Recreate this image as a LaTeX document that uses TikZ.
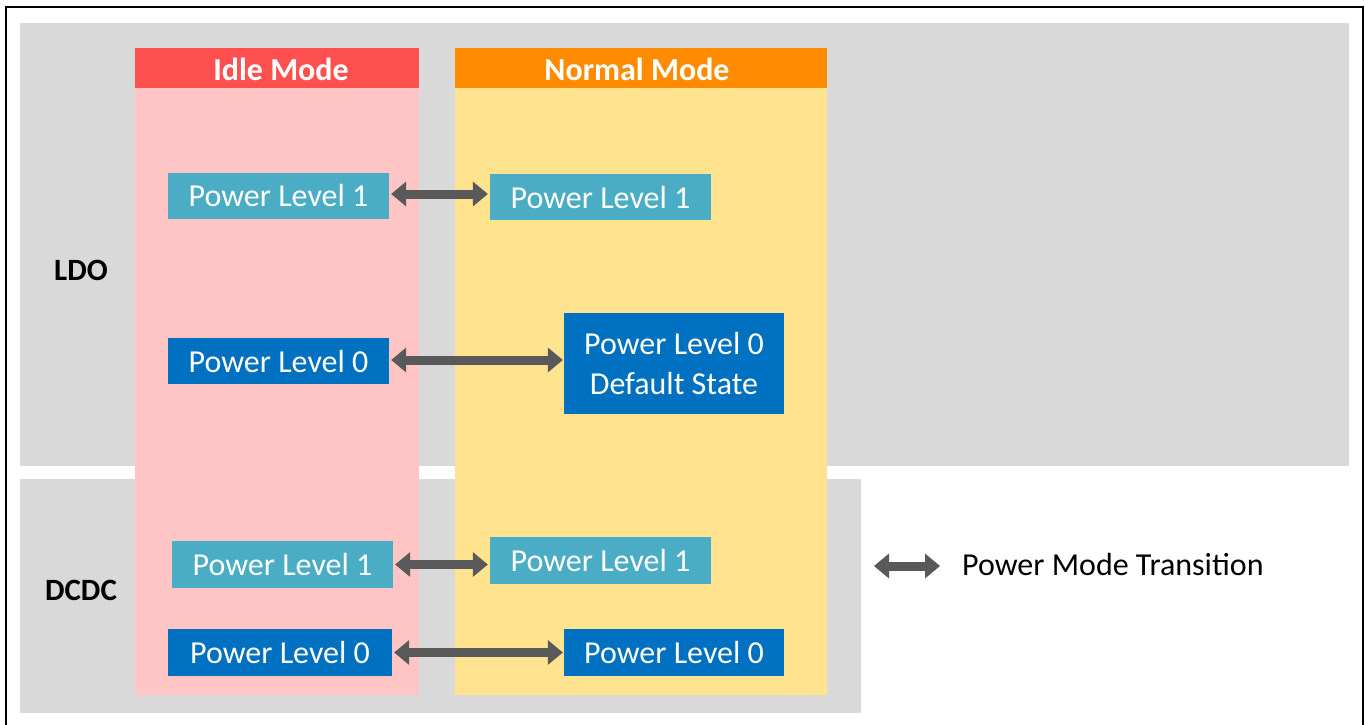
\documentclass[tikz,border=0pt]{standalone}
\usepackage{fontspec}
\setmainfont{Carlito}
\usetikzlibrary{arrows.meta}
\definecolor{bandgray}{HTML}{D9D9D9}
\definecolor{idlehead}{HTML}{FF5050}
\definecolor{idlebody}{HTML}{FFC4C4}
\definecolor{normhead}{HTML}{FF8C00}
\definecolor{normbody}{HTML}{FFE38F}
\definecolor{lightblue}{HTML}{4BACC6}
\definecolor{darkblue}{HTML}{0070C0}
\definecolor{arrowgray}{HTML}{595959}
\tikzset{
  txt/.style={font=\fontsize{32}{40}\selectfont},
  plbox/.style={txt, text=white, inner sep=0pt, align=center, minimum width=221pt, minimum height=46pt},
  plone/.style={plbox, fill=lightblue},
  plzero/.style={plbox, fill=darkblue},
  header/.style={font=\fontsize{32}{38}\selectfont\bfseries, text=white, inner sep=0pt},
  rowlabel/.style={font=\fontsize{31}{36}\selectfont\bfseries, text=black, inner sep=0pt},
  trans/.style={draw=arrowgray, line width=9pt,
    {Triangle[width=25pt,length=15pt,line width=0pt]}-{Triangle[width=25pt,length=15pt,line width=0pt]}},
}
\begin{document}
\begin{tikzpicture}[x=1pt,y=-1pt]
\useasboundingbox (0,0) rectangle (1365,725);
% outer frame
\draw[line width=2.6pt] (6,740) -- (6,7) -- (1363,7) -- (1363,740);
% bands
\fill[bandgray] (20,23) rectangle (1349,466);
\fill[bandgray] (20,479) rectangle (861,713);
% columns
\fill[idlebody] (135,88) rectangle (419,695);
\fill[normbody] (455,88) rectangle (827,695);
\fill[idlehead] (135,48) rectangle (419,88);
\fill[normhead] (455,48) rectangle (827,88);
\node[header] (ih) at (281,69) {Idle Mode};
\node[header] (nh) at (637,69) {Normal Mode};
% row labels
\node[rowlabel] (ldo) at (81,270) {LDO};
\node[rowlabel] (dcdc) at (81,590) {DCDC};
% LDO boxes
\node[plone] (i1) at (278.5,195.5) {Power Level 1};
\node[plone] (n1) at (600.5,197) {Power Level 1};
\node[plzero] (i0) at (278.5,361) {Power Level 0};
\node[plzero, minimum width=220pt, minimum height=101pt] (n0) at (674,363.5) {Power Level 0\\Default State};
% DCDC boxes
\node[plone, minimum height=47pt] (di1) at (282.5,564.5) {Power Level 1};
\node[plone, minimum height=47pt] (dn1) at (600.5,560.5) {Power Level 1};
\node[plzero, minimum width=224pt, minimum height=47pt] (di0) at (280,652.5) {Power Level 0};
\node[plzero, minimum width=220pt, minimum height=47pt] (dn0) at (674,652.5) {Power Level 0};
% transitions
\draw[trans, shorten <=2pt, shorten >=2pt] ([yshift=1.5pt]i1.east) -- ([yshift=1.5pt]i1.east -| n1.west);
\draw[trans, shorten <=2pt, shorten >=1pt] ([yshift=1pt]i0.east) -- ([yshift=1pt]i0.east -| n0.west);
\draw[trans, shorten <=2pt, shorten >=2pt] (di1.east) -- (di1.east -| dn1.west);
\draw[trans, shorten <=2pt, shorten >=1pt] (di0.east) -- (di0.east -| dn0.west);
% legend
\coordinate (la) at (874,566);
\coordinate (lb) at (940,566);
\draw[trans] (la) -- (lb);
\node[txt, anchor=west, inner sep=0pt] (legend) at (962,565) {Power Mode Transition};
\end{tikzpicture}
\end{document}
